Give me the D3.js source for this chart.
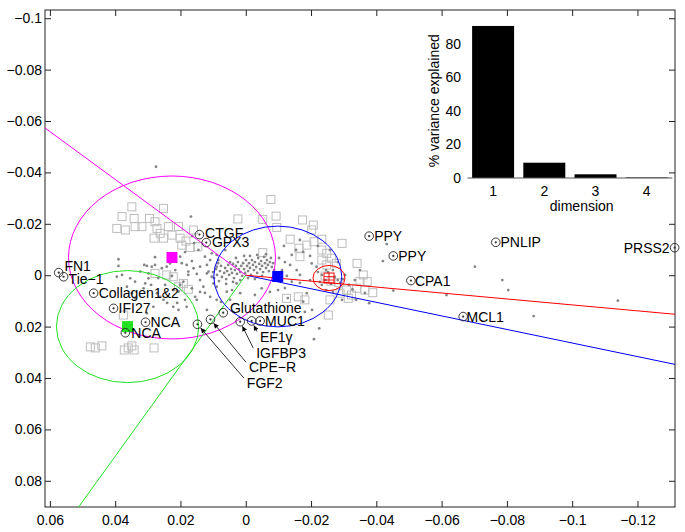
<!DOCTYPE html>
<html><head><meta charset="utf-8">
<script src="https://cdn.jsdelivr.net/npm/d3@7"></script>
<style>
body{margin:0;background:#fff}
text{font-family:"Liberation Sans",Arial,Helvetica,sans-serif}
</style>
</head><body>
<svg id="c" width="685" height="532"></svg>
<script>
// ---------------- DATA ----------------
const xTicks = [0.06,0.04,0.02,0,-0.02,-0.04,-0.06,-0.08,-0.1,-0.12];
const yTicks = [-0.1,-0.08,-0.06,-0.04,-0.02,0,0.02,0.04,0.06,0.08];

const grayDots = [
[0.0275,-0.0422],[0.0168,-0.0228],[-0.0432,-0.0121],[-0.0420,-0.0055],[-0.0702,-0.0033],[-0.0786,0.0019],[-0.0804,0.0058],[-0.0452,0.0060],[-0.0615,0.0077],[-0.0378,0.0109],[-0.1140,0.0099],[-0.0882,0.0159],[-0.0327,0.0055],[-0.0225,0.0207],[-0.0209,0.0249],[-0.0181,0.0143],
[0.0390,-0.0062],[0.0390,-0.0036],[0.0395,0.0006],[0.0379,-0.0001],[0.0354,0.0012],[0.0339,0.0025],[0.0364,0.0045],[0.0349,0.0070],[0.0339,0.0090],[0.0303,-0.0036],[0.0298,-0.0007],[0.0323,-0.0014],[0.0311,-0.0040],[0.0288,-0.0033],[0.0278,-0.0040],[0.0308,0.0032],[0.0313,0.0051],[0.0290,0.0038],[0.0298,0.0012],[0.0272,0.0070],[0.0262,0.0084],[0.0252,0.0096],[0.0283,0.0123],[0.0303,0.0148],[0.0257,-0.0027],[0.0242,-0.0033],[0.0232,-0.0046],[0.0216,-0.0020],[0.0226,0.0003],[0.0268,0.0011],[0.0247,0.0038],[0.0222,0.0058],[0.0201,0.0038],[0.0191,0.0025],[0.0206,0.0064],[0.0176,-0.0001],[0.0165,0.0051],[0.0155,0.0084],[0.0186,0.0096],[0.0222,0.0123],[0.0241,0.0108],[0.0210,0.0108],[0.0206,0.0135],[0.0181,0.0123],[0.0150,0.0096],[0.0140,0.0065],[0.0201,-0.0072],[0.0196,-0.0047],[0.0186,-0.0090],[0.0278,-0.0070],[0.0181,-0.0040],[0.0165,-0.0055],[0.0160,-0.0027],[0.0176,-0.0014],[0.0150,-0.0005],[0.0140,-0.0033],[0.0140,0.0019],[0.0130,0.0045],[0.0119,-0.0007],[0.0119,-0.0040],[0.0125,-0.0072],[0.0109,-0.0059],[0.0114,-0.0014],[0.0104,0.0006],[0.0099,0.0032],[0.0089,-0.0033],[0.0084,-0.0059],[0.0104,-0.0085],[0.0145,-0.0098],[0.0089,-0.0079],[0.0063,-0.0098],[0.0109,0.0084],[0.0125,0.0069],[0.0089,0.0096],[0.0089,0.0045],[0.0058,0.0064],[0.0076,0.0104],[0.0119,0.0135],[0.0028,0.0032],[0.0017,0.0070],[0.0042,0.0058],[0.0048,0.0096],[0.0164,-0.0152],[0.0158,-0.0125],
[0.0100,-0.0012],[0.0097,0.0011],[0.0091,-0.0024],[0.0088,-0.0001],[0.0082,0.0023],[0.0079,-0.0016],[0.0076,-0.0036],[0.0073,0.0007],[0.0066,-0.0009],[0.0063,-0.0028],[0.0060,0.0015],[0.0057,-0.0016],[0.0054,-0.0040],[0.0051,-0.0001],[0.0045,-0.0024],[0.0042,-0.0009],[0.0039,-0.0044],[0.0036,0.0011],[0.0033,-0.0020],[0.0030,-0.0036],[0.0027,-0.0005],[0.0024,-0.0051],[0.0021,-0.0024],[0.0017,-0.0012],[0.0014,-0.0036],[0.0011,0.0003],[0.0008,-0.0047],[0.0005,-0.0024],[0.0002,-0.0009],[-0.0001,-0.0059],[-0.0004,-0.0036],[-0.0007,-0.0016],[-0.0010,-0.0047],[-0.0013,-0.0028],[-0.0016,-0.0001],[-0.0019,-0.0059],[-0.0022,-0.0040],[-0.0025,-0.0020],[-0.0028,-0.0051],[-0.0032,-0.0032],[-0.0035,-0.0009],[-0.0038,-0.0067],[-0.0041,-0.0044],[-0.0044,-0.0024],[-0.0047,-0.0055],[-0.0050,-0.0036],[-0.0053,-0.0012],[-0.0056,-0.0071],[-0.0059,-0.0047],[-0.0062,-0.0028],[-0.0065,-0.0059],[-0.0068,-0.0040],[-0.0071,-0.0016],[-0.0074,-0.0051],[-0.0077,-0.0067],[-0.0080,-0.0032],[-0.0084,-0.0047],[-0.0087,-0.0020],[-0.0050,0.0003],[-0.0028,0.0015],[-0.0007,0.0011],[0.0017,0.0019],[0.0039,0.0026],[0.0060,0.0034],[-0.0035,-0.0079],[-0.0062,-0.0082],[-0.0013,-0.0075],[0.0048,-0.0051],[0.0030,-0.0067],[0.0005,-0.0075],[0.0085,-0.0047],
[-0.0120,-0.0051],[-0.0136,-0.0040],[-0.0141,-0.0079],[-0.0154,-0.0098],[-0.0176,-0.0091],[-0.0156,-0.0020],[-0.0166,-0.0001],[-0.0141,0.0025],[-0.0126,0.0003],[-0.0111,-0.0020],[-0.0166,0.0030],[-0.0120,0.0050],[-0.0187,0.0070],[-0.0176,0.0103],[-0.0197,0.0019],[-0.0202,-0.0046],[-0.0217,-0.0033],[-0.0221,-0.0012],[-0.0233,0.0038],[-0.0246,0.0058],[-0.0267,0.0065],[-0.0289,0.0030],[-0.0304,-0.0001],[-0.0316,0.0038],[-0.0233,-0.0001],[-0.0243,0.0019],[-0.0252,-0.0012],[-0.0261,0.0034],[-0.0273,0.0007],[-0.0282,0.0019],[-0.0246,-0.0020],[-0.0267,-0.0020],[-0.0227,0.0026],[-0.0298,0.0015],[-0.0028,0.0077],[-0.0049,0.0051],[-0.0074,0.0065],[-0.0099,0.0058],[-0.0117,-0.0114],[-0.0166,-0.0137],[-0.0221,-0.0114],[-0.0258,-0.0098],[-0.0282,-0.0051],[-0.0197,-0.0075],[-0.0102,-0.0067],[-0.0129,0.0089],[-0.0203,0.0135],[-0.0350,-0.0020],[-0.0334,0.0019],[-0.0365,0.0069],[-0.0338,0.0096],[-0.0295,0.0096]
];

const graySquares = [
[0.0349,-0.0266],[0.0252,-0.0260],[0.0379,-0.0228],[0.0342,-0.0221],[0.0295,-0.0221],[0.0278,-0.0208],[0.0395,-0.0182],[0.0369,-0.0176],[0.0339,-0.0189],[0.0318,-0.0189],[0.0272,-0.0182],[0.0262,-0.0163],[0.0237,-0.0189],[0.0226,-0.0156],[0.0201,-0.0144],[0.0183,-0.0133],[0.0160,-0.0176],[0.0147,-0.0111],[0.0196,-0.0117],[0.0281,-0.0144],[0.0252,-0.0144],[0.0206,-0.0189],[0.0170,-0.0108],[0.0024,-0.0219],
[0.0278,-0.0007],[0.0242,-0.0001],[0.0222,0.0006],[0.0191,0.0032],[0.0176,0.0055],[0.0206,0.0045],
[0.0476,0.0279],[0.0461,0.0283],[0.0441,0.0275],[0.0372,0.0291],[0.0360,0.0283],[0.0349,0.0275],[0.0342,0.0291],[0.0281,0.0283],[0.0375,0.0155],
[-0.0077,-0.0295],[-0.0093,-0.0230],[-0.0052,-0.0217],[-0.0095,-0.0186],[-0.0174,-0.0215],[-0.0207,-0.0195],[-0.0202,-0.0176],[-0.0136,-0.0140],[-0.0163,-0.0105],[-0.0187,-0.0117],[-0.0209,-0.0130],[-0.0233,-0.0140],[-0.0295,-0.0124],[-0.0233,-0.0098],[-0.0248,-0.0085],[-0.0263,-0.0066],[-0.0278,-0.0046],[-0.0052,-0.0088],[-0.0166,-0.0072],[-0.0125,0.0090],[-0.0161,0.0084],[-0.0181,0.0096],[-0.0309,0.0058],[-0.0285,0.0029],[-0.0341,-0.0046],[-0.0350,0.0025],[-0.0372,0.0025],[-0.0365,0.0058],[-0.0340,0.0051],[-0.0324,0.0077],[-0.0253,0.0155],[-0.0360,-0.0001],[-0.0389,0.0068],[-0.0314,0.0090],[-0.0289,0.0070],[-0.0233,-0.0059],[-0.0248,-0.0040],[-0.0258,0.0096],[-0.0243,0.0003],[-0.0261,0.0023]
];

const groups = ["magenta","green","blue","red"];
const groupCenterX = [0.0226,0.0362,-0.0098,-0.0255];
const groupCenterY = [-0.0069,0.0200,0.0005,0.0011];
const groupRadius = [0.0317,0.0218,0.0196,0.0049];
const rayEndX = [0.0615,0.0512,-0.1315,-0.1315];
const rayEndY = [-0.0573,0.0902,0.0347,0.0152];

const genes = ["FN1","Tie\u22121","Collagen1&2","IFI27","NCA","NCA","CTGF","GPX3","Glutathione","FGF2","CPE\u2212R","IGFBP3","EF1\u03b3","MUC1","PPY","PPY","CPA1","PNLIP","PRSS2","MCL1"];
const geneX = [0.0573,0.0558,0.0466,0.0405,0.0307,0.0369,0.0142,0.0121,0.0069,0.0148,0.0108,0.0017,-0.0018,-0.0044,-0.0378,-0.0452,-0.0506,-0.0766,-0.1314,-0.0666];
const geneY = [-0.0010,0.0006,0.0070,0.0129,0.0183,0.0224,-0.0158,-0.0127,0.0146,0.0191,0.0172,0.0181,0.0178,0.0178,-0.0152,-0.0075,0.0021,-0.0128,-0.0107,0.0161];

const dimensions = [1,2,3,4];
const varianceExplained = [90.5,9.1,2.2,0.3];
const varianceTicks = [0,20,40,60,80];

// ---------------- LAYOUT (label offsets in px) ----------------
const labelLayout = [
 {dx:5.7,dy:-1.2},{dx:5,dy:7},{dx:5,dy:5},{dx:5,dy:5},{dx:5,dy:4.6},{dx:6,dy:5},
 {dx:5.7,dy:3},{dx:5.7,dy:4},{dx:6.7,dy:0},
 {dx:49.4,dy:63.7,arrow:true},{dx:38.5,dy:52.8,arrow:true},{dx:16,dy:36.3,arrow:true},{dx:8.3,dy:20.6,arrow:true},
 {dx:5,dy:5},{dx:5,dy:4.7},{dx:5,dy:4.7},{dx:4,dy:5.3},{dx:4.7,dy:5},{dx:-5,dy:5.3,end:true},{dx:3.4,dy:5.3}
];
const groupColors = ["#ff00ff","#22e022","#0000ff","#ff0000"];

// ---------------- DRAW ----------------
const svg = d3.select("#c");
const L=45,R=675,T=10,B=507;
const x = d3.scaleLinear().domain([0.0615,-0.1315]).range([L,R]);
const y = d3.scaleLinear().domain([-0.1032,0.0902]).range([T,B]);
const fmt = d => d===0 ? "0" : (d<0?"\u2212":"") + String(+Math.abs(d).toFixed(2));

const defs = svg.append("defs");
defs.append("clipPath").attr("id","clip").append("rect")
  .attr("x",L).attr("y",T).attr("width",R-L).attr("height",B-T);
defs.append("marker").attr("id","arr").attr("viewBox","0 0 10 10")
  .attr("refX",10).attr("refY",5).attr("markerWidth",7).attr("markerHeight",5)
  .attr("markerUnits","userSpaceOnUse").attr("orient","auto")
  .append("path").attr("d","M0,0L10,5L0,10z").attr("fill","#000");

// axes
function styleAxis(g){
  g.select(".domain").remove();
  g.selectAll(".tick line").attr("stroke","#222");
  g.selectAll(".tick text").attr("font-size",14).attr("fill","#000")
   .attr("font-family","'Liberation Sans',Arial,Helvetica,sans-serif");
}
svg.append("g").attr("transform",`translate(0,${B})`)
  .call(d3.axisBottom(x).tickValues(xTicks).tickSize(-6).tickSizeOuter(0).tickPadding(8).tickFormat(fmt)).call(styleAxis);
svg.append("g").attr("transform",`translate(0,${T})`)
  .call(d3.axisTop(x).tickValues(xTicks).tickSize(-6).tickSizeOuter(0).tickFormat("")).call(styleAxis);
svg.append("g").attr("transform",`translate(${L},0)`)
  .call(d3.axisLeft(y).tickValues(yTicks).tickSize(-6).tickSizeOuter(0).tickPadding(3).tickFormat(fmt)).call(styleAxis);
svg.append("g").attr("transform",`translate(${R},0)`)
  .call(d3.axisRight(y).tickValues(yTicks).tickSize(-6).tickSizeOuter(0).tickFormat("")).call(styleAxis);
svg.append("rect").attr("x",L).attr("y",T).attr("width",R-L).attr("height",B-T)
  .attr("fill","none").attr("stroke","#222").attr("stroke-width",1);

// squares and dots
const plot = svg.append("g");
plot.selectAll("rect.sq").data(graySquares).join("rect").attr("class","sq")
  .attr("x",d=>x(d[0])-4).attr("y",d=>y(d[1])-4).attr("width",8).attr("height",8)
  .attr("fill","none").attr("stroke","#bdbdbd").attr("stroke-width",1);
plot.selectAll("circle.dot").data(grayDots).join("circle").attr("class","dot")
  .attr("cx",d=>x(d[0])).attr("cy",d=>y(d[1])).attr("r",1.4).attr("fill","#858585");

// ellipses (circles in data space) and rays
const gG = svg.append("g").attr("clip-path","url(#clip)");
groups.forEach((g,i)=>{
  gG.append("ellipse")
    .attr("cx",x(groupCenterX[i])).attr("cy",y(groupCenterY[i]))
    .attr("rx",Math.abs(x(groupRadius[i])-x(0))).attr("ry",Math.abs(y(groupRadius[i])-y(0)))
    .attr("fill","none").attr("stroke",groupColors[i]).attr("stroke-width",1);
  gG.append("line").attr("x1",x(0)).attr("y1",y(0)).attr("x2",x(rayEndX[i])).attr("y2",y(rayEndY[i]))
    .attr("stroke",groupColors[i]).attr("stroke-width",1);
});
// centroids
groups.forEach((g,i)=>{
  const cx=x(groupCenterX[i]), cy=y(groupCenterY[i]);
  if(g==="red"){
    const s=10;
    gG.append("rect").attr("x",cx-s/2).attr("y",cy-s/2).attr("width",s).attr("height",s)
      .attr("fill","none").attr("stroke","#ff0000").attr("stroke-width",1);
    gG.append("path").attr("d",`M${cx},${cy-s/2}V${cy+s/2}M${cx-s/2},${cy-1.5}H${cx+s/2}M${cx-s/2},${cy+2}H${cx+s/2}`)
      .attr("stroke","#ff0000").attr("stroke-width",0.8);
  } else {
    const s=11;
    gG.append("rect").attr("x",cx-s/2).attr("y",cy-s/2).attr("width",s).attr("height",s)
      .attr("fill",groupColors[i]);
  }
});

// gene markers + labels
const gl = svg.append("g");
genes.forEach((name,i)=>{
  const cx=x(geneX[i]), cy=y(geneY[i]);
  gl.append("circle").attr("cx",cx).attr("cy",cy).attr("r",4.3)
    .attr("fill","none").attr("stroke","#222").attr("stroke-width",0.9);
  gl.append("circle").attr("cx",cx).attr("cy",cy).attr("r",1.1).attr("fill","#333");
  const lo = labelLayout[i];
  const tx=cx+lo.dx, ty=cy+lo.dy;
  gl.append("text").attr("x",tx).attr("y",ty).attr("font-size",14).attr("fill","#000")
    .attr("text-anchor",lo.end?"end":"start").text(name);
  if(lo.arrow){
    const sx=tx-3, sy=ty-10;
    const vx=sx-cx, vy=sy-cy, len=Math.hypot(vx,vy);
    const ex=cx+vx/len*5, ey=cy+vy/len*5;
    gl.append("line").attr("x1",sx).attr("y1",sy).attr("x2",ex).attr("y2",ey)
      .attr("stroke","#000").attr("stroke-width",0.8).attr("marker-end","url(#arr)");
  }
});

// inset bar chart
const xb = d3.scaleBand().domain(dimensions).range([467.5,672.3]).paddingInner(0.18).paddingOuter(0.09);
const yi = d3.scaleLinear().domain([0,80]).range([178,43.6]);
const ins = svg.append("g");
ins.selectAll("rect.bar").data(dimensions).join("rect").attr("class","bar")
  .attr("x",d=>xb(d)).attr("width",xb.bandwidth())
  .attr("y",(d,i)=>yi(varianceExplained[i])).attr("height",(d,i)=>yi(0)-yi(varianceExplained[i]))
  .attr("fill","#000");
ins.append("line").attr("x1",467.5).attr("x2",672.3).attr("y1",yi(0)).attr("y2",yi(0))
  .attr("stroke","#555").attr("stroke-width",1);
ins.selectAll("text.yt").data(varianceTicks).join("text").attr("class","yt")
  .attr("x",461).attr("y",d=>yi(d)).attr("dy","0.35em").attr("text-anchor","end")
  .attr("font-size",14).text(d=>d);
ins.selectAll("text.xt").data(dimensions).join("text").attr("class","xt")
  .attr("x",d=>xb(d)+xb.bandwidth()/2).attr("y",196).attr("text-anchor","middle")
  .attr("font-size",14).text(d=>d);
ins.append("text").attr("x",581.7).attr("y",211).attr("text-anchor","middle")
  .attr("font-size",14).text("dimension");
ins.append("text").attr("transform","translate(439,100.8) rotate(-90)")
  .attr("text-anchor","middle").attr("font-size",14).text("% variance explained");
</script>
</body></html>
